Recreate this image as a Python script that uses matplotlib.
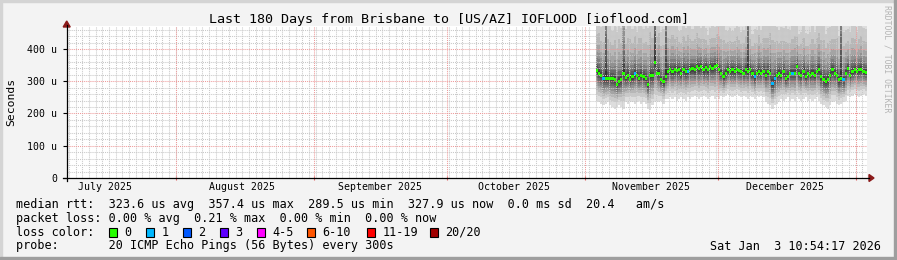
import matplotlib
matplotlib.use("Agg")
import matplotlib.pyplot as plt
import matplotlib.dates as mdates
from matplotlib.lines import Line2D
from matplotlib.patches import Rectangle, Polygon
from datetime import datetime, timedelta
import numpy as np

# ---------------- data ----------------
title = "Last 180 Days from Brisbane to [US/AZ] IOFLOOD [ioflood.com]"
view_start = datetime(2025, 7, 7, 10, 54, 17)
view_end = datetime(2026, 1, 3, 10, 54, 17)
data_start = datetime(2025, 11, 3, 12, 0)
step_hours = 12

# median rtt per 12h step (microseconds)
median_us = [333, 325, 319, 309, 308, 308, 308, 308, 304, 289.5,
             299, 304, 325, 312, 319, 306, 314, 325, 319, 309,
             319, 314, 309, 290, 319, 319, 357.4, 325, 325, 304,
             299, 314, 330, 335, 330, 335, 333, 335, 325, 335,
             330, 330, 337, 340, 335, 345, 340, 345, 335, 343,
             335, 345, 340, 347, 350, 335, 325, 314, 325, 335,
             330, 335, 330, 335, 333, 330, 325, 335, 330, 335,
             325, 314, 325, 330, 325, 330, 319, 330, 325, 294,
             309, 319, 325, 319, 330, 309, 314, 325, 325, 325,
             345, 325, 319, 330, 314, 325, 319, 325, 319, 330,
             335, 314, 304, 299, 304, 319, 335, 325, 319, 304,
             309, 304, 325, 340, 319, 330, 335, 330, 335, 337,
             330, 327.9]

# packets lost (of 20) per step
loss = [0, 0, 0, 1, 0, 0, 0, 0, 0, 0,
        0, 0, 0, 0, 0, 0, 0, 1, 0, 0,
        0, 0, 0, 0, 0, 0, 0, 0, 0, 0,
        0, 0, 0, 0, 0, 0, 0, 0, 0, 0,
        0, 1, 0, 0, 0, 0, 0, 0, 0, 0,
        0, 0, 0, 0, 0, 0, 0, 0, 0, 0,
        0, 0, 0, 0, 0, 0, 0, 0, 0, 0,
        0, 1, 0, 0, 0, 0, 0, 0, 0, 1,
        1, 0, 0, 0, 0, 0, 0, 0, 1, 0,
        0, 0, 0, 0, 0, 0, 0, 0, 0, 0,
        0, 0, 0, 0, 0, 0, 0, 0, 0, 0,
        0, 1, 0, 0, 0, 0, 0, 0, 0, 0,
        0, 0]

# lowest ping per step (microseconds)
ping_min_us = [240, 235, 230, 225, 230, 235,
               225, 220, 215, 220, 225, 220, 215,
               235, 230, 240, 235, 230, 235, 240, 230, 235, 230,
               215, 210, 225,
               235, 240, 235, 240, 230, 245,
               245, 250, 245, 250, 240, 245, 250, 245, 240, 250, 245, 250,
               255, 250, 245, 250, 255, 250, 245, 250, 255, 245, 250, 245,
               255, 250, 255, 260, 255, 250, 255, 260, 255, 250,
               255, 250, 245, 255, 250, 245, 255, 250, 255, 250,
               235, 230, 225, 215, 225, 230, 235,
               245, 240, 245, 250, 240, 245, 240, 250, 245, 240, 245, 250,
               240, 245, 240, 245, 250, 240,
               230, 225, 220, 215, 225,
               235, 240, 230, 225, 230, 235, 240,
               255, 250, 255, 260, 255, 250, 255, 260, 255]

# upper spread of the pings per step (relative)
hi_scale = [1.2, 1.3, 1.1, 1.2, 6.0, 1.3, 1.2, 1.1, 1.3, 1.2, 1.4, 1.2, 3.0,
            1.1, 1.2, 1.3, 1.1, 1.2, 1.0, 1.3, 1.2, 1.1, 1.2, 1.3, 1.4, 1.2,
            6.0, 1.2, 1.3, 1.1, 1.2, 6.0,
            1.1, 1.0, 1.2, 1.0, 1.1, 0.9, 1.0, 1.1, 1.0, 1.2, 1.0, 0.9,
            1.0, 1.1, 1.0, 0.9, 1.0, 0.9, 0.8, 0.9, 1.0, 0.9, 1.0, 1.1,
            1.1, 1.2, 1.0, 0.9, 1.0, 0.9, 1.0, 1.1, 1.0, 0.9,
            1.0, 1.1, 6.0, 1.0, 0.9, 1.1, 1.0, 1.2, 1.0, 1.1,
            1.2, 1.1, 1.3, 1.4, 1.2, 1.1, 1.0, 1.1, 1.0, 1.2, 1.1, 1.0, 1.1,
            1.2, 1.0, 0.9, 1.0, 1.1, 1.0, 0.9, 1.0, 1.1, 1.0, 1.1, 1.2,
            1.2, 1.3, 1.1, 1.2, 1.1, 1.0, 1.1, 1.2, 1.0, 6.0, 1.1,
            1.0, 0.9, 1.0, 1.1, 1.0, 0.9, 1.0, 1.1, 1.0, 1.0]

# shape of the sorted ping distribution
low_frac = [1.0, 0.78, 0.64, 0.53, 0.43, 0.34, 0.26, 0.18, 0.11, 0.04]   # ranks 1..10
up_off_us = [4, 9, 15, 23, 33, 47, 66, 95, 135, 230]                     # ranks 11..20

loss_labels = ["0", "1", "2", "3", "4-5", "6-10", "11-19", "20/20"]
loss_colors = ["#26ff00", "#00b8ff", "#0059ff", "#5e00ff", "#ff00ff",
               "#ff5500", "#ff0000", "#a10000"]

y_max = 470
y_ticks = [0, 100, 200, 300, 400]
y_tick_labels = ["0", "100 u", "200 u", "300 u", "400 u"]
month_starts = [datetime(2025, 8, 1), datetime(2025, 9, 1), datetime(2025, 10, 1),
                datetime(2025, 11, 1), datetime(2025, 12, 1), datetime(2026, 1, 1)]
month_label_pos = [datetime(2025, 7, 16), datetime(2025, 8, 16), datetime(2025, 9, 16),
                   datetime(2025, 10, 16), datetime(2025, 11, 16), datetime(2025, 12, 16)]
month_labels = ["July 2025", "August 2025", "September 2025",
                "October 2025", "November 2025", "December 2025"]

legend_lines = [
    "median rtt:  323.6 us avg  357.4 us max  289.5 us min  327.9 us now  0.0 ms sd  20.4   am/s",
    "packet loss: 0.00 % avg  0.21 % max  0.00 % min  0.00 % now",
]
probe_line = "probe:       20 ICMP Echo Pings (56 Bytes) every 300s"
timestamp = "Sat Jan  3 10:54:17 2026"

# ---------------- layout ----------------
W, H = 897, 260
MONO = "DejaVu Sans Mono"
fig = plt.figure(figsize=(W / 100, H / 100), dpi=100)
fig.patch.set_facecolor("#f3f3f3")


def fx(px):
    return px / W


def fy(py):
    return 1 - py / H


AX_L, AX_R, AX_T, AX_B = 66.7, 866.7, 26.4, 178.0
ax = fig.add_axes([fx(AX_L), fy(AX_B), (AX_R - AX_L) / W, (AX_B - AX_T) / H])
ax.set_facecolor("white")
for s in ax.spines.values():
    s.set_visible(False)

x0 = mdates.date2num(view_start)
x1 = mdates.date2num(view_end)
ax.set_xlim(x0, x1)
ax.set_ylim(0, y_max)

n = len(median_us)
t = mdates.date2num([data_start + timedelta(hours=step_hours * i) for i in range(n)])
w = step_hours / 24.0
med = np.array(median_us, dtype=float)
span_lo = med - np.array(ping_min_us, dtype=float)
hs = np.array(hi_scale)
pings = [med - span_lo * f for f in low_frac] + [med + hs * o for o in up_off_us]

half = 10
for k in range(half):
    g = int(190 / half * (half - (k + 1))) + 50
    col = "#%02x%02x%02x" % (g, g, g)
    bot = pings[k]
    top = np.minimum(pings[2 * half - 1 - k], y_max + 50)
    ax.bar(t, top - bot, bottom=bot, width=w, align="edge", color=col,
           linewidth=0, antialiased=False, zorder=2)

mh = 4.5
ax.bar(t, 2 * mh, bottom=med - mh, width=w, align="edge",
       color=[loss_colors[l] for l in loss], linewidth=0, zorder=4)

# grid
grid_kw = dict(linestyle=(0, (1, 1)), linewidth=0.75, zorder=3)
for v in range(20, y_max, 20):
    if v % 100:
        ax.axhline(v, color="#c8c8c8", **grid_kw)
minor_x = []
d = datetime(2025, 8, 1)
while mdates.date2num(d) > x0:
    d -= timedelta(hours=36)
d += timedelta(hours=36)
while mdates.date2num(d) < x1:
    minor_x.append(mdates.date2num(d))
    d += timedelta(hours=36)
for v in minor_x:
    ax.axvline(v, color="#c8c8c8", **grid_kw)
for v in y_ticks[1:]:
    ax.axhline(v, color="#ee9a9a", **grid_kw)
for m in month_starts:
    ax.axvline(mdates.date2num(m), color="#ee9a9a", **grid_kw)

# ticks
ax.set_yticks(y_ticks)
ax.set_yticklabels(y_tick_labels, fontfamily=MONO, fontsize=7.1)
ax.tick_params(axis="y", length=3, width=0.8, pad=4, color="black")
ax.set_xticks([mdates.date2num(m) for m in month_starts])
ax.set_xticklabels([])
ax.tick_params(axis="x", length=2.5, width=0.8, color="#e06060", direction="inout")
axh = AX_B - AX_T
for p, lab in zip(month_label_pos, month_labels):
    ax.text(mdates.date2num(p), -9.3 / axh, lab, ha="center", va="center",
            transform=ax.get_xaxis_transform(),
            fontfamily=MONO, fontsize=7.1, color="black", clip_on=False)

# axis lines with arrows
fig.add_artist(Line2D([fx(63), fx(869)], [fy(AX_B), fy(AX_B)], color="black", lw=0.9))
fig.add_artist(Line2D([fx(AX_L), fx(AX_L)], [fy(181), fy(25)], color="black", lw=0.9))
fig.add_artist(Polygon([[fx(869), fy(AX_B - 3.5)], [fx(869), fy(AX_B + 3.5)],
                        [fx(874), fy(AX_B)]], closed=True, color="#8b1a1a",
                       transform=fig.transFigure))
fig.add_artist(Polygon([[fx(AX_L - 3.5), fy(27)], [fx(AX_L + 3.5), fy(27)],
                        [fx(AX_L), fy(21)]], closed=True, color="#8b1a1a",
                       transform=fig.transFigure))

# texts
fig.text(0.5, fy(19.3), title, ha="center", va="center", fontfamily=MONO, fontsize=9.6)
fig.text(fx(11), fy(102), "Seconds", rotation=90, ha="center", va="center",
         fontfamily=MONO, fontsize=8.2)
fig.text(fx(887), fy(5), "RRDTOOL / TOBI OETIKER", rotation=-90, ha="center", va="top",
         fontfamily=MONO, fontsize=5.9, color="#b4b4b4")

TXT = 8.5
fig.text(fx(16), fy(204.3), legend_lines[0], ha="left", va="center", fontfamily=MONO, fontsize=TXT)
fig.text(fx(16), fy(218.3), legend_lines[1], ha="left", va="center", fontfamily=MONO, fontsize=TXT)
fig.text(fx(16), fy(232.3), "loss color:", ha="left", va="center", fontfamily=MONO, fontsize=TXT)
box_x = [108.5, 145.7, 182.7, 219.7, 256.7, 306.7, 366.7, 429.7]
for bx, lab, col in zip(box_x, loss_labels, loss_colors):
    fig.add_artist(Rectangle((fx(bx), fy(237)), 8 / W, 9 / H, transform=fig.transFigure,
                             facecolor=col, edgecolor="black", linewidth=0.8))
    fig.text(fx(bx + 15.5), fy(232.3), lab, ha="left", va="center", fontfamily=MONO, fontsize=TXT)
fig.text(fx(16), fy(246), probe_line, ha="left", va="center", fontfamily=MONO, fontsize=TXT)
fig.text(fx(880.5), fy(246), timestamp, ha="right", va="center", fontfamily=MONO, fontsize=TXT)

# 3D frame
fig.add_artist(Rectangle((0, 1 - 2 / H), 1, 2 / H, transform=fig.transFigure, color="#d4d4d4"))
fig.add_artist(Rectangle((0, 0), 2 / W, 1, transform=fig.transFigure, color="#d4d4d4"))
fig.add_artist(Rectangle((0, 0), 1, 3 / H, transform=fig.transFigure, color="#9e9e9e"))
fig.add_artist(Rectangle((1 - 3 / W, 0), 3 / W, 1, transform=fig.transFigure, color="#9e9e9e"))

fig.savefig("out.png", dpi=100, facecolor=fig.get_facecolor())
